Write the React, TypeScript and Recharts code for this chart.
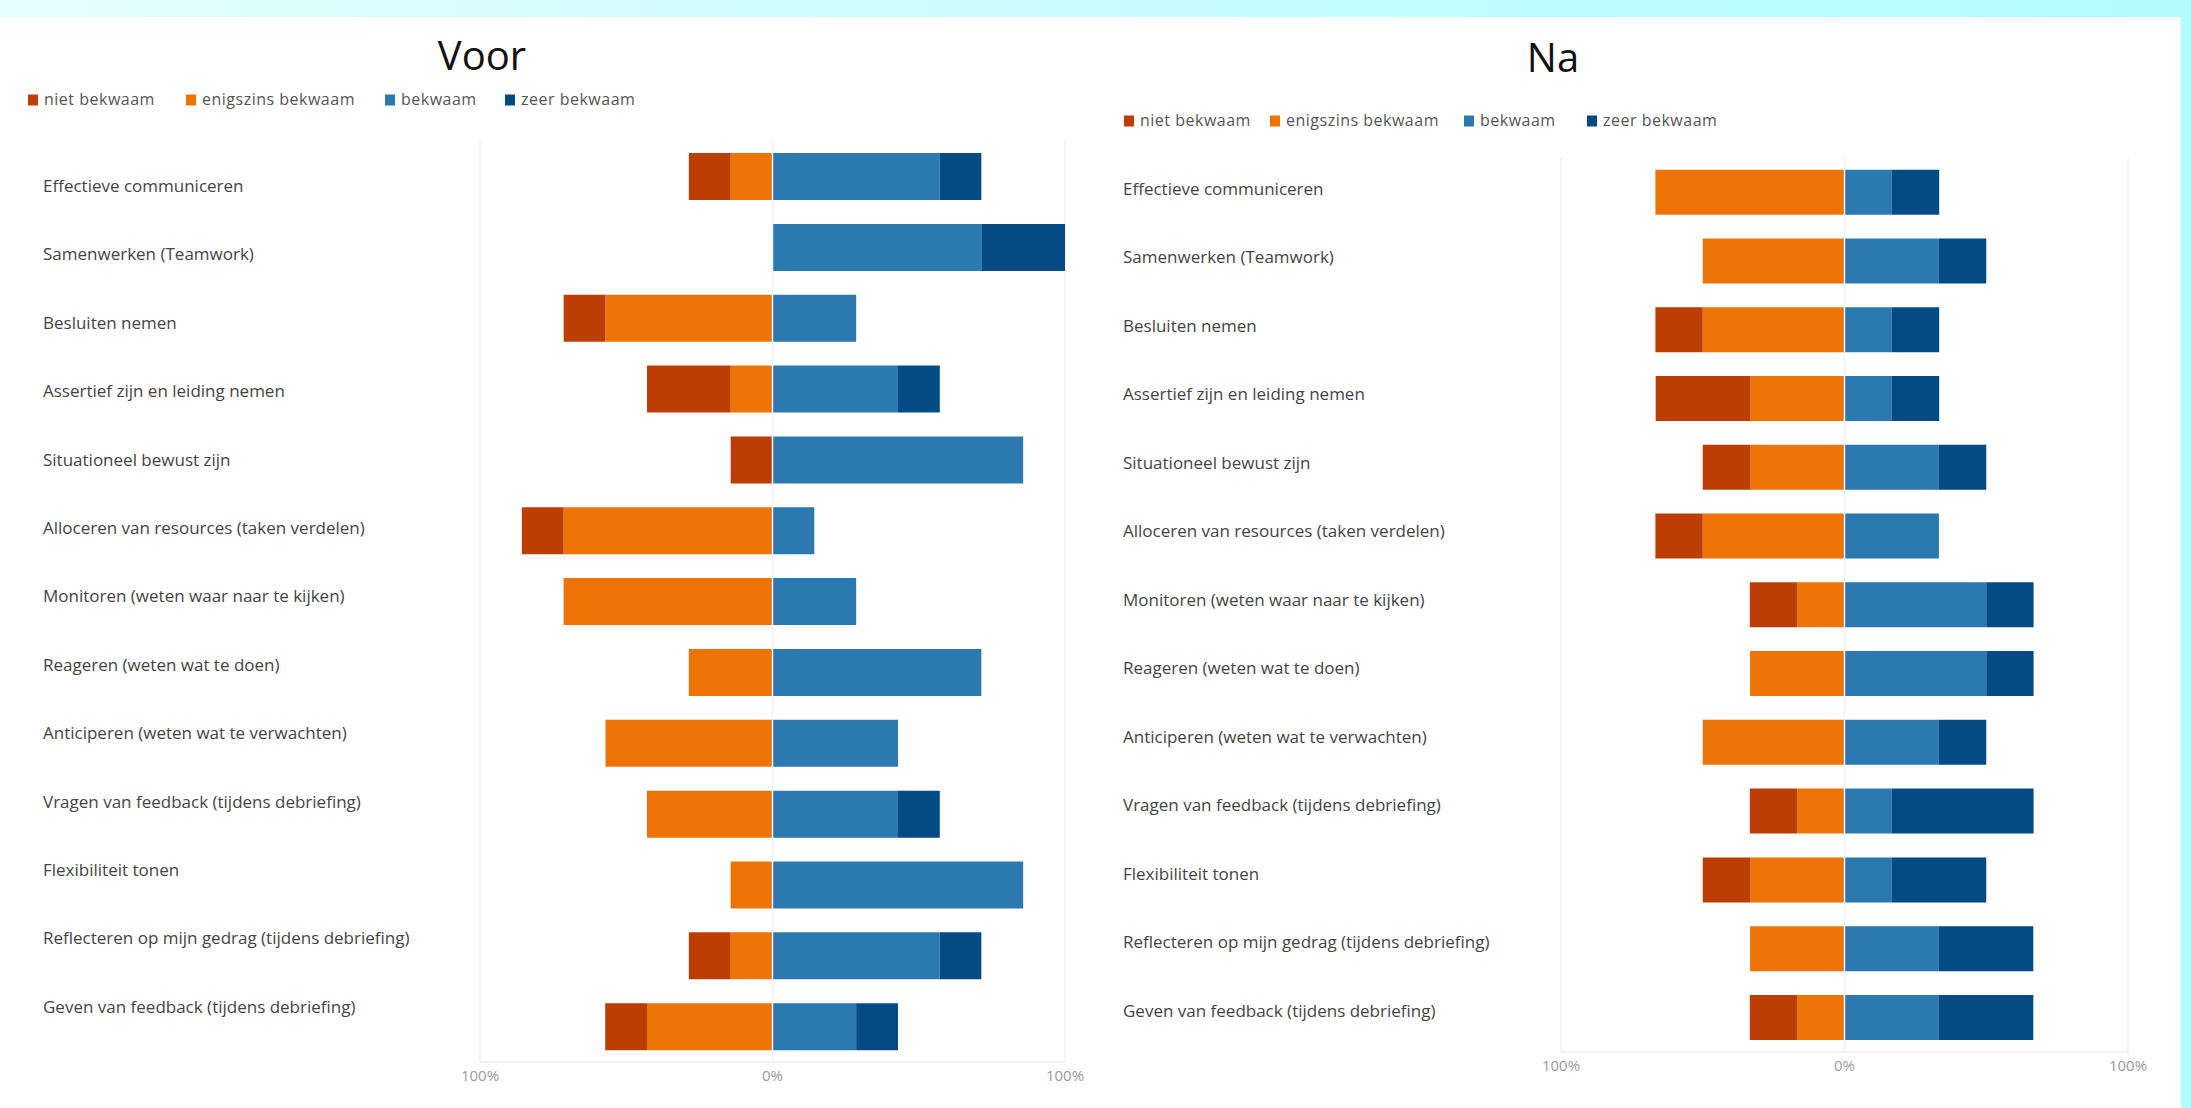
import {
  BarChart,
  Bar,
  XAxis,
  YAxis,
  CartesianGrid,
  ReferenceLine,
} from "recharts";

const categories = [
  "Effectieve communiceren",
  "Samenwerken (Teamwork)",
  "Besluiten nemen",
  "Assertief zijn en leiding nemen",
  "Situationeel bewust zijn",
  "Alloceren van resources (taken verdelen)",
  "Monitoren (weten waar naar te kijken)",
  "Reageren (weten wat te doen)",
  "Anticiperen (weten wat te verwachten)",
  "Vragen van feedback (tijdens debriefing)",
  "Flexibiliteit tonen",
  "Reflecteren op mijn gedrag (tijdens debriefing)",
  "Geven van feedback (tijdens debriefing)",
];

const seriesNames = ["niet bekwaam", "enigszins bekwaam", "bekwaam", "zeer bekwaam"];
const seriesColors = ["#BD3E05", "#ED7305", "#2C78B0", "#044A85"];

// percentages, "Voor" (7 respondents)
const voorNiet = [14.3, 0, 14.3, 28.6, 14.3, 14.3, 0, 0, 0, 0, 0, 14.3, 14.3];
const voorEnig = [14.3, 0, 57.1, 14.3, 0, 71.4, 71.4, 28.6, 57.1, 42.9, 14.3, 14.3, 42.9];
const voorBekw = [57.1, 71.4, 28.6, 42.9, 85.7, 14.3, 28.6, 71.4, 42.9, 42.9, 85.7, 57.1, 28.6];
const voorZeer = [14.3, 28.6, 0, 14.3, 0, 0, 0, 0, 0, 14.3, 0, 14.3, 14.3];

// percentages, "Na" (6 respondents)
const naNiet = [0, 0, 16.7, 33.3, 16.7, 16.7, 16.7, 0, 0, 16.7, 16.7, 0, 16.7];
const naEnig = [66.7, 50, 50, 33.3, 33.3, 50, 16.7, 33.3, 50, 16.7, 33.3, 33.3, 16.7];
const naBekw = [16.7, 33.3, 16.7, 16.7, 33.3, 33.3, 50, 50, 33.3, 16.7, 16.7, 33.3, 33.3];
const naZeer = [16.7, 16.7, 16.7, 16.7, 16.7, 0, 16.7, 16.7, 16.7, 50, 33.3, 33.3, 33.3];

const xTicks = [-100, 0, 100];

const FONT = "'Segoe UI', 'Open Sans', sans-serif";

function buildRows(niet: number[], enig: number[], bekw: number[], zeer: number[]) {
  return categories.map((name, i) => ({
    name,
    niet: -niet[i],
    enig: -enig[i],
    bekw: bekw[i],
    zeer: zeer[i],
  }));
}

const voorData = buildRows(voorNiet, voorEnig, voorBekw, voorZeer);
const naData = buildRows(naNiet, naEnig, naBekw, naZeer);

interface PanelProps {
  data: ReturnType<typeof buildRows>;
  left: number;
  width: number;
  top: number;
  bottom: number;
  yWidth: number;
  right: number;
  labelX: number;
  labelTop: number;
  labelStep: number;
}

function DivergingChart(props: PanelProps) {
  const { data, left, width, top, bottom, yWidth, right, labelX, labelTop, labelStep } = props;
  return (
    <div style={{ position: "absolute", left, top: 0 }}>
      <BarChart
        width={width}
        height={1108}
        data={data}
        layout="vertical"
        stackOffset="sign"
        barCategoryGap="17%"
        margin={{ top, right, left: 0, bottom }}
      >
        <CartesianGrid horizontal={false} stroke="#ececec" />
        <XAxis
          type="number"
          domain={[-100, 100]}
          ticks={xTicks}
          allowDataOverflow
          tickFormatter={(v: number) => `${Math.abs(v)}%`}
          tick={{ fontSize: 15, fill: "#9a9a9a", fontFamily: FONT }}
          tickLine={false}
          axisLine={{ stroke: "#e6e6e6" }}
        />
        <YAxis
          type="category"
          dataKey="name"
          width={yWidth}
          tickLine={false}
          axisLine={false}
          interval={0}
          tick={(p: any) => (
            <text
              x={labelX}
              y={labelTop + p.index * labelStep}
              dy="0.35em"
              textAnchor="start"
              fontSize={17}
              fill="#444"
              fontFamily={FONT}
            >
              {p.payload.value}
            </text>
          )}
        />
        <Bar dataKey="enig" stackId="s" fill={seriesColors[1]} isAnimationActive={false} />
        <Bar dataKey="niet" stackId="s" fill={seriesColors[0]} isAnimationActive={false} />
        <Bar dataKey="bekw" stackId="s" fill={seriesColors[2]} isAnimationActive={false} />
        <Bar dataKey="zeer" stackId="s" fill={seriesColors[3]} isAnimationActive={false} />
        <ReferenceLine x={0} stroke="#eef2f6" strokeWidth={1.5} />
      </BarChart>
    </div>
  );
}

function Legend({ xs, y }: { xs: number[]; y: number }) {
  return (
    <g>
      {seriesNames.map((n, i) => (
        <g key={n}>
          <rect x={xs[i]} y={y - 5.5} width={10} height={11} fill={seriesColors[i]} />
          <text
            x={xs[i] + 16}
            y={y + 5}
            fontSize={16}
            letterSpacing={0.5}
            fill="#555"
            fontFamily={FONT}
          >
            {n}
          </text>
        </g>
      ))}
    </g>
  );
}

export default function App() {
  return (
    <div
      style={{
        position: "absolute",
        left: 0,
        top: 0,
        width: 2191,
        height: 1108,
        overflow: "hidden",
        background: "linear-gradient(90deg, #e6fdff 0%, #c8fcff 50%, #b3fdff 100%)",
      }}
    >
      <div
        style={{
          position: "absolute",
          left: 0,
          top: 17,
          width: 2181,
          height: 1091,
          background: "#fff",
        }}
      />
      <DivergingChart
        data={voorData}
        left={0}
        width={1100}
        top={141}
        bottom={16}
        yWidth={480}
        right={35}
        labelX={43}
        labelTop={186}
        labelStep={68.4}
      />
      <DivergingChart
        data={naData}
        left={1100}
        width={1081}
        top={158}
        bottom={26}
        yWidth={461}
        right={53}
        labelX={23}
        labelTop={189}
        labelStep={68.5}
      />
      <svg
        width={2191}
        height={160}
        style={{ position: "absolute", left: 0, top: 0, pointerEvents: "none" }}
      >
        <text x={482} y={70} textAnchor="middle" fontSize={40} fill="#111" fontFamily={FONT}>
          Voor
        </text>
        <text x={1553} y={72} textAnchor="middle" fontSize={40} fill="#111" fontFamily={FONT}>
          Na
        </text>
        <Legend xs={[28, 186, 385, 505]} y={100} />
        <Legend xs={[1124, 1270, 1464, 1587]} y={121} />
      </svg>
    </div>
  );
}
